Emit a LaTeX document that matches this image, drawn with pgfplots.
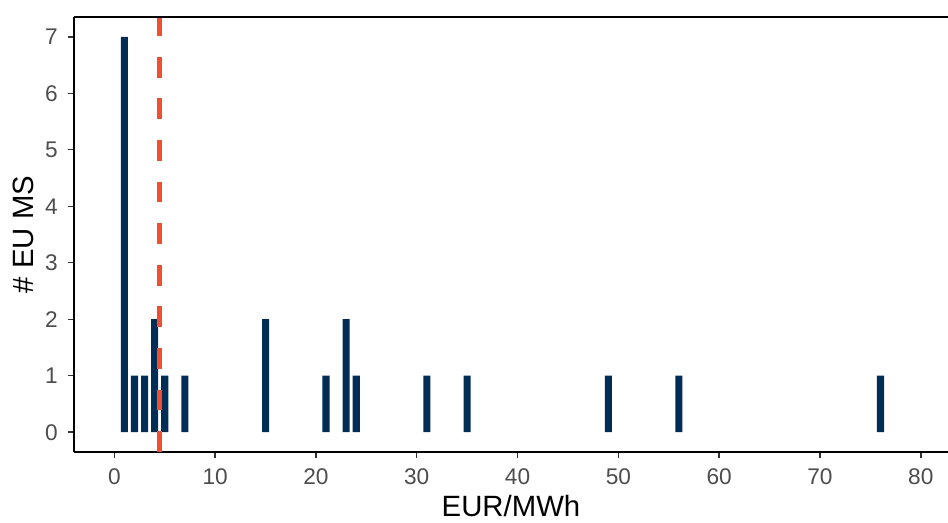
\documentclass[border=0pt]{standalone}
\usepackage{fontspec}
\setmainfont{Liberation Sans}
\usepackage{pgfplots}
\pgfplotsset{compat=1.18}
\definecolor{barblue}{RGB}{0,45,86}
\definecolor{dashred}{RGB}{241,80,48}
\definecolor{tickgray}{RGB}{51,51,51}
\definecolor{textgray}{RGB}{77,77,77}
\begin{document}
\begin{tikzpicture}
\begin{axis}[
  at={(0,0)}, anchor=south west,
  scale only axis, width=655.5pt, height=326.25pt,
  xmin=-4, xmax=82.7, ymin=-0.35, ymax=7.35,
  axis x line*=bottom, axis y line*=left,
  axis line style={black, line width=1.1pt},
  xtick={0,10,...,80}, ytick={0,...,7},
  minor tick num=0,
  tick align=outside, major tick length=4.5pt,
  tick style={tickgray, line width=1.1pt},
  ticklabel style={font=\fontsize{17}{20}\selectfont, text=textgray},
  /pgf/number format/assume math mode=true,
  xticklabel style={anchor=north, inner sep=0pt, yshift=-7.5pt},
  yticklabel style={anchor=east, inner sep=0pt, xshift=-7.5pt},
  xlabel={EUR/MWh}, ylabel={\# EU MS},
  label style={font=\fontsize{22}{26}\selectfont, text=black},
  xlabel style={at={(axis description cs:0.5,-0.149)}, anchor=base},
  ylabel style={at={(axis description cs:-0.0465,0.5)}, anchor=base},
  clip=false,
]
\addplot[ybar, bar width=0.7, fill=barblue, draw=none] coordinates {
  (1,7) (2,1) (3,1) (4,2) (5,1) (7,1) (15,2) (21,1) (23,2) (24,1)
  (31,1) (35,1) (49,1) (56,1) (76,1)
};
\addplot[dashred, line width=4pt, mark=none, dash pattern=on 15.6pt off 15.6pt]
  coordinates {(4.45,-0.35) (4.45,7.35)};
\draw[black, line width=1.1pt] (rel axis cs:0,1) -- (rel axis cs:1,1);
\end{axis}
\pgfresetboundingbox
\useasboundingbox (-55.5pt,-53.25pt) rectangle (655.5pt,339pt);
\end{tikzpicture}
\end{document}
